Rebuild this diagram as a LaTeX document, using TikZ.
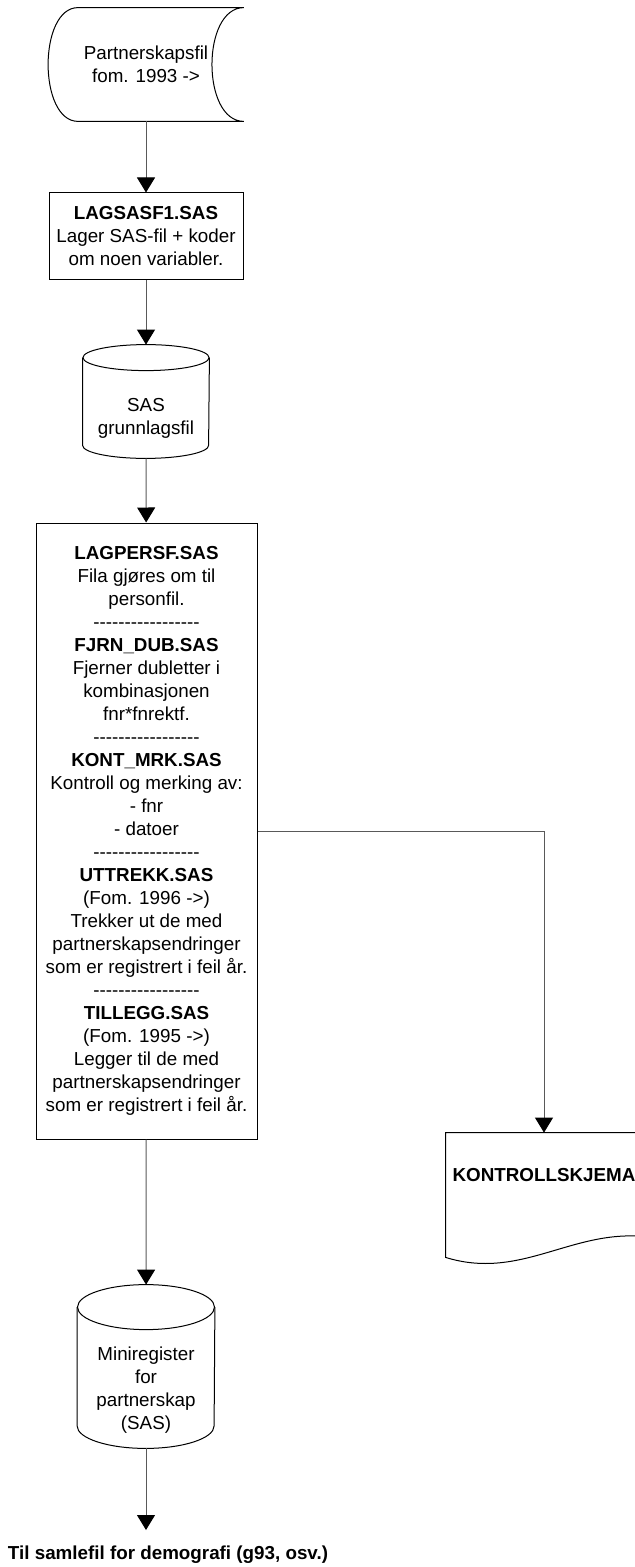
\documentclass[tikz,border=0pt]{standalone}
\usepackage{fontspec}
\setmainfont{Liberation Sans}
\usepackage{tikz}
\usetikzlibrary{shapes,arrows,arrows.meta,positioning}

\newcommand{\hy}{\mbox{-}}
\newcommand{\dashrow}{\hy\hy\hy\hy\hy\hy\hy\hy\hy\hy\hy\hy\hy\hy\hy\hy\hy}

\begin{document}
\begin{tikzpicture}[x=0.5pt, y=-0.5pt]
		\tikzstyle{Txt}		= [font=\fontsize{9.4}{11.5}\selectfont, align=center]
		\tikzstyle{Head}	= [font=\fontsize{9.4}{11.5}\selectfont\bfseries, align=center]
		\tikzstyle{Outline}	= [draw=black, line width=0.5pt]
		\tikzstyle{Store}	= [Txt, rectangle, inner sep=0pt]
		\tikzstyle{Proc}	= [Txt, rectangle, Outline, inner sep=2pt]
		\tikzstyle{Flow}	= [draw=black!65, line width=0.5pt, -{Triangle[width=9pt, length=7.5pt, color=black]}]

		\useasboundingbox (0,0) rectangle (635,1567);

		\node (src) at (146,64.5) [Store, minimum width=97.5pt, minimum height=56.5pt] {Partnerskapsfil\\fom. 1993 ->};
		\node (lagsas) at (146,236.5) [Proc, minimum width=97pt, minimum height=43.5pt] {\textbf{LAGSASF1.SAS}\\Lager SAS-fil + koder\\om noen variabler.};
		\node (grunn) at (146,401.5) [Store, minimum width=63pt, minimum height=56.5pt,
			label={[Txt, yshift=-8.5pt]center:SAS\\grunnlagsfil}] {};
		\node (proc) at (146.5,831) [Proc, minimum width=110.5pt, minimum height=308pt] {%
			\textbf{LAGPERSF.SAS}\\Fila gjøres om til\\personfil.\\\dashrow\\%
			\textbf{FJRN\_DUB.SAS}\\Fjerner dubletter i\\kombinasjonen\\fnr*fnrektf.\\\dashrow\\%
			\textbf{KONT\_MRK.SAS}\\Kontroll og merking av:\\- fnr\\- datoer\\\dashrow\\%
			\textbf{UTTREKK.SAS}\\(Fom. 1996 ->)\\Trekker ut de med\\partnerskapsendringer\\som er registrert i feil år.\\\dashrow\\%
			\textbf{TILLEGG.SAS}\\(Fom. 1995 ->)\\Legger til de med\\partnerskapsendringer\\som er registrert i feil år.};
		\node (kontroll) at (544,1195) [Store, minimum width=98pt, minimum height=62pt,
			label={[Head, yshift=10pt]center:KONTROLLSKJEMA}] {};
		\node (minireg) at (146,1366.5) [Store, minimum width=68.5pt, minimum height=81.5pt,
			label={[Txt, yshift=-12pt]center:Miniregister\\for\\partnerskap\\(SAS)}] {};
		\coordinate (tip) at (146,1530);
		\node (dest) at (168,1555) [Head] {Til samlefil for demografi (g93, osv.)};

		% outlines of the file shapes
		\draw [Outline] ([xshift=15pt]src.north west) -- (src.north east)
			.. controls ([xshift=-21.3pt]src.north east) and ([xshift=-21.3pt]src.south east) .. (src.south east)
			-- ([xshift=15pt]src.south west)
			.. controls ([xshift=-5pt]src.south west) and ([xshift=-5pt]src.north west) .. cycle;
		\draw [Outline] ([yshift=-6.5pt]grunn.north) ellipse [x radius=31.5pt, y radius=6.5pt];
		\draw [Outline] ([yshift=-6.5pt]grunn.north west) -- ([yshift=6.5pt]grunn.south west)
			arc [start angle=180, end angle=360, x radius=31.5pt, y radius=6.5pt] -- ([yshift=-6.5pt]grunn.north east);
		\draw [Outline] ([yshift=-11.25pt]minireg.north) ellipse [x radius=34.25pt, y radius=11.25pt];
		\draw [Outline] ([yshift=-11.25pt]minireg.north west) -- ([yshift=11.25pt]minireg.south west)
			arc [start angle=180, end angle=360, x radius=34.25pt, y radius=11.25pt] -- ([yshift=-11.25pt]minireg.north east);
		\draw [Outline] (kontroll.north west) -- (kontroll.north east) -- ([yshift=10.5pt]kontroll.south east)
			.. controls ([xshift=-36pt, yshift=13.5pt]kontroll.south east) and ([xshift=37pt, yshift=-11.5pt]kontroll.south west) .. (kontroll.south west)
			-- cycle;

		\draw [Flow] (src) to (lagsas);
		\draw [Flow] (lagsas) to (grunn);
		\draw [Flow] (grunn) to (proc);
		\draw [Flow] (proc.east) -| (kontroll.north);
		\draw [Flow] (proc) to (minireg);
		\draw [Flow] (minireg) to (tip);
\end{tikzpicture}
\end{document}
